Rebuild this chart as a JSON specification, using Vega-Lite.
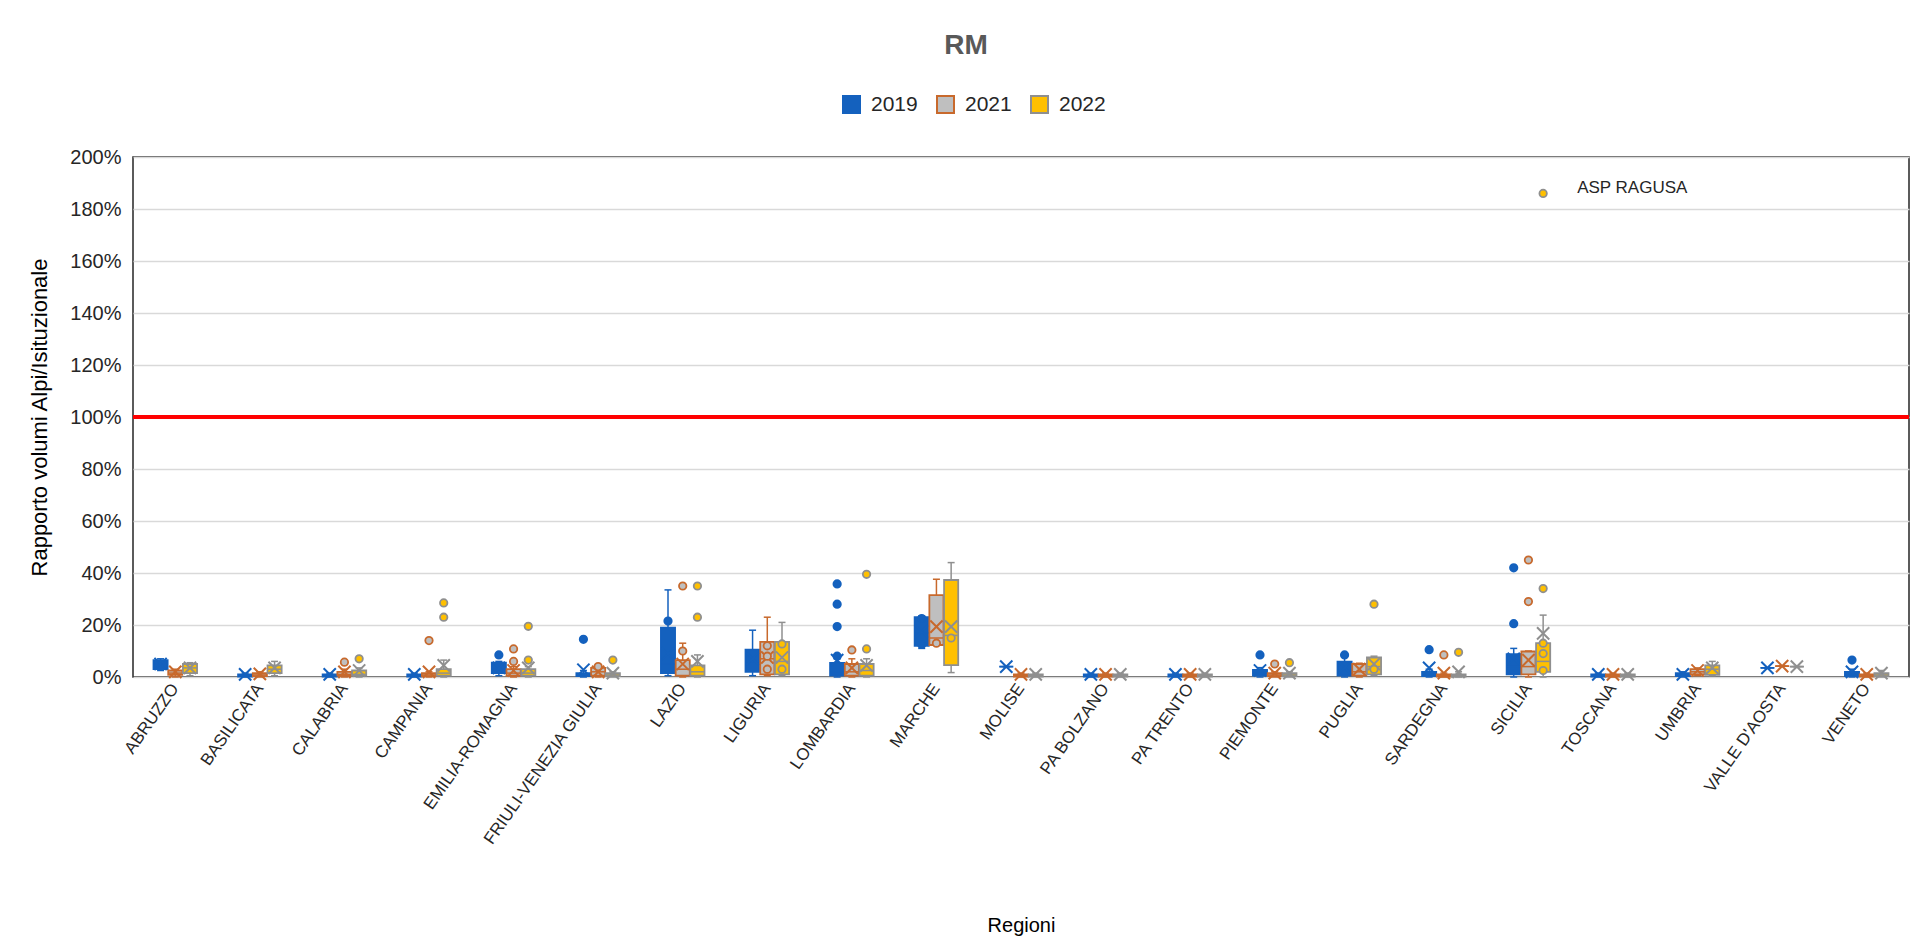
{
  "$schema": "https://vega.github.io/schema/vega-lite/v6.json",
  "width": 1776,
  "height": 520,
  "autosize": {"type": "none"},
  "padding": {"left": 133, "top": 157, "right": 14, "bottom": 271},
  "background": "white",
  "config": {
    "view": {"stroke": "#262626", "strokeWidth": 1.5},
    "font": "Liberation Sans",
    "legend": {
      "orient": "none", "legendX": 708, "legendY": -63, "direction": "horizontal",
      "symbolType": "square", "symbolSize": 289, "symbolStrokeWidth": 2,
      "labelFontSize": 21, "labelColor": "#262626", "columnPadding": 15, "labelOffset": 9
    }
  },
  "title": {"text": "RM", "fontSize": 28, "fontWeight": "bold", "color": "#595959", "anchor": "middle", "dx": -55, "offset": 34},
  "datasets": {
    "boxes": [
      {"region": "ABRUZZO", "year": "2019", "lo": 2.5, "q1": 3, "med": 5, "q3": 6.5, "hi": 7, "mean": 5},
      {"region": "ABRUZZO", "year": "2021", "lo": 0, "q1": 0.8, "med": 1.5, "q3": 2.5, "hi": 3, "mean": 2},
      {"region": "ABRUZZO", "year": "2022", "lo": 0.5, "q1": 1.5, "med": 3.5, "q3": 5, "hi": 5.5, "mean": 3.5},
      {"region": "BASILICATA", "year": "2019", "lo": 0, "q1": 0.2, "med": 0.5, "q3": 1, "hi": 1.5, "mean": 1},
      {"region": "BASILICATA", "year": "2021", "lo": 0, "q1": 0.3, "med": 0.8, "q3": 1.5, "hi": 2, "mean": 1.2},
      {"region": "BASILICATA", "year": "2022", "lo": 0.5, "q1": 1.5, "med": 3, "q3": 4.5, "hi": 6, "mean": 3.5},
      {"region": "CALABRIA", "year": "2019", "lo": 0, "q1": 0.2, "med": 0.5, "q3": 1, "hi": 1.5, "mean": 1},
      {"region": "CALABRIA", "year": "2021", "lo": 0, "q1": 0.5, "med": 1, "q3": 2, "hi": 3, "mean": 2},
      {"region": "CALABRIA", "year": "2022", "lo": 0, "q1": 0.5, "med": 1, "q3": 2.5, "hi": 3.5, "mean": 2.5},
      {"region": "CAMPANIA", "year": "2019", "lo": 0, "q1": 0.2, "med": 0.5, "q3": 1, "hi": 1.5, "mean": 1},
      {"region": "CAMPANIA", "year": "2021", "lo": 0, "q1": 0.3, "med": 0.8, "q3": 1.5, "hi": 2, "mean": 2},
      {"region": "CAMPANIA", "year": "2022", "lo": 0, "q1": 0.5, "med": 1.5, "q3": 3, "hi": 6.5, "mean": 4.5},
      {"region": "EMILIA-ROMAGNA", "year": "2019", "lo": 0.5, "q1": 1.5, "med": 3, "q3": 5.5, "hi": 6, "mean": 3.5},
      {"region": "EMILIA-ROMAGNA", "year": "2021", "lo": 0, "q1": 0.5, "med": 1.5, "q3": 3, "hi": 4, "mean": 2.5},
      {"region": "EMILIA-ROMAGNA", "year": "2022", "lo": 0, "q1": 0.5, "med": 1.5, "q3": 3, "hi": 4, "mean": 3.5},
      {"region": "FRIULI-VENEZIA GIULIA", "year": "2019", "lo": 0, "q1": 0.3, "med": 0.8, "q3": 1.5, "hi": 2.5, "mean": 2.8},
      {"region": "FRIULI-VENEZIA GIULIA", "year": "2021", "lo": 0, "q1": 0.5, "med": 2, "q3": 3.5, "hi": 4, "mean": 2},
      {"region": "FRIULI-VENEZIA GIULIA", "year": "2022", "lo": 0, "q1": 0.3, "med": 0.8, "q3": 1.5, "hi": 2, "mean": 1.5},
      {"region": "LAZIO", "year": "2019", "lo": 0.5, "q1": 1.5, "med": 5, "q3": 19, "hi": 33.5, "mean": 9},
      {"region": "LAZIO", "year": "2021", "lo": 0, "q1": 0.5, "med": 3, "q3": 6.5, "hi": 13, "mean": 5},
      {"region": "LAZIO", "year": "2022", "lo": 0, "q1": 0.5, "med": 2, "q3": 4.5, "hi": 8.5, "mean": 6},
      {"region": "LIGURIA", "year": "2019", "lo": 0.5, "q1": 2, "med": 6, "q3": 10.5, "hi": 18, "mean": 7},
      {"region": "LIGURIA", "year": "2021", "lo": 0.5, "q1": 1, "med": 7, "q3": 13.5, "hi": 23, "mean": 7.5},
      {"region": "LIGURIA", "year": "2022", "lo": 0.5, "q1": 1, "med": 6, "q3": 13.5, "hi": 21, "mean": 7.5},
      {"region": "LOMBARDIA", "year": "2019", "lo": 0, "q1": 0.5, "med": 2, "q3": 5.4, "hi": 7, "mean": 6.5},
      {"region": "LOMBARDIA", "year": "2021", "lo": 0, "q1": 0.5, "med": 2, "q3": 5, "hi": 7, "mean": 3.5},
      {"region": "LOMBARDIA", "year": "2022", "lo": 0, "q1": 0.5, "med": 2.5, "q3": 5, "hi": 7, "mean": 4.5},
      {"region": "MARCHE", "year": "2019", "lo": 11, "q1": 12, "med": 17, "q3": 23, "hi": 23.5, "mean": 17.5},
      {"region": "MARCHE", "year": "2021", "lo": 12.3, "q1": 12.3, "med": 15, "q3": 31.5, "hi": 37.6, "mean": 19.4},
      {"region": "MARCHE", "year": "2022", "lo": 1.7, "q1": 4.6, "med": 16, "q3": 37.3, "hi": 44, "mean": 19.4},
      {"region": "MOLISE", "year": "2019", "lo": 4, "q1": 4, "med": 4, "q3": 4, "hi": 4, "mean": 4},
      {"region": "MOLISE", "year": "2021", "lo": 0, "q1": 0.2, "med": 0.5, "q3": 1, "hi": 1.5, "mean": 1},
      {"region": "MOLISE", "year": "2022", "lo": 0, "q1": 0.2, "med": 0.5, "q3": 1, "hi": 1.5, "mean": 1},
      {"region": "PA BOLZANO", "year": "2019", "lo": 0, "q1": 0.2, "med": 0.5, "q3": 1, "hi": 1.5, "mean": 1},
      {"region": "PA BOLZANO", "year": "2021", "lo": 0, "q1": 0.2, "med": 0.5, "q3": 1, "hi": 1.5, "mean": 1},
      {"region": "PA BOLZANO", "year": "2022", "lo": 0, "q1": 0.2, "med": 0.5, "q3": 1, "hi": 1.5, "mean": 1},
      {"region": "PA TRENTO", "year": "2019", "lo": 0, "q1": 0.2, "med": 0.5, "q3": 1, "hi": 1.5, "mean": 1},
      {"region": "PA TRENTO", "year": "2021", "lo": 0, "q1": 0.2, "med": 0.5, "q3": 1, "hi": 1.5, "mean": 1},
      {"region": "PA TRENTO", "year": "2022", "lo": 0, "q1": 0.2, "med": 0.5, "q3": 1, "hi": 1.5, "mean": 1},
      {"region": "PIEMONTE", "year": "2019", "lo": 0, "q1": 0.5, "med": 1.5, "q3": 2.7, "hi": 3.6, "mean": 2.5},
      {"region": "PIEMONTE", "year": "2021", "lo": 0, "q1": 0.3, "med": 0.8, "q3": 1.5, "hi": 2, "mean": 1.5},
      {"region": "PIEMONTE", "year": "2022", "lo": 0, "q1": 0.3, "med": 0.8, "q3": 1.5, "hi": 2, "mean": 1.5},
      {"region": "PUGLIA", "year": "2019", "lo": 0, "q1": 0.5, "med": 2.5, "q3": 5.9, "hi": 8, "mean": 3.5},
      {"region": "PUGLIA", "year": "2021", "lo": 0, "q1": 0.5, "med": 2, "q3": 5, "hi": 5.3, "mean": 3},
      {"region": "PUGLIA", "year": "2022", "lo": 0.5, "q1": 1, "med": 4, "q3": 7.5, "hi": 8, "mean": 5},
      {"region": "SARDEGNA", "year": "2019", "lo": 0, "q1": 0.3, "med": 0.8, "q3": 2, "hi": 3, "mean": 3.5},
      {"region": "SARDEGNA", "year": "2021", "lo": 0, "q1": 0.2, "med": 0.5, "q3": 1, "hi": 1.5, "mean": 1.5},
      {"region": "SARDEGNA", "year": "2022", "lo": 0, "q1": 0.2, "med": 0.5, "q3": 1, "hi": 2, "mean": 2},
      {"region": "SICILIA", "year": "2019", "lo": 0, "q1": 1, "med": 4, "q3": 8.8, "hi": 11, "mean": 7},
      {"region": "SICILIA", "year": "2021", "lo": 0, "q1": 1, "med": 4, "q3": 9.8, "hi": 10, "mean": 6.5},
      {"region": "SICILIA", "year": "2022", "lo": 0, "q1": 2, "med": 6, "q3": 13, "hi": 23.8, "mean": 16.8},
      {"region": "TOSCANA", "year": "2019", "lo": 0, "q1": 0.2, "med": 0.5, "q3": 1, "hi": 1.5, "mean": 1},
      {"region": "TOSCANA", "year": "2021", "lo": 0, "q1": 0.2, "med": 0.5, "q3": 1, "hi": 1.5, "mean": 1},
      {"region": "TOSCANA", "year": "2022", "lo": 0, "q1": 0.2, "med": 0.5, "q3": 1, "hi": 1.5, "mean": 1},
      {"region": "UMBRIA", "year": "2019", "lo": 0, "q1": 0.3, "med": 0.8, "q3": 1.5, "hi": 2, "mean": 1},
      {"region": "UMBRIA", "year": "2021", "lo": 0.5, "q1": 1, "med": 2, "q3": 3, "hi": 3.5, "mean": 2.5},
      {"region": "UMBRIA", "year": "2022", "lo": 0.5, "q1": 0.8, "med": 3, "q3": 4.5, "hi": 6, "mean": 3.5},
      {"region": "VALLE D'AOSTA", "year": "2019", "lo": 3.5, "q1": 3.5, "med": 3.5, "q3": 3.5, "hi": 3.5, "mean": 3.5},
      {"region": "VALLE D'AOSTA", "year": "2021", "lo": 4.2, "q1": 4.2, "med": 4.2, "q3": 4.2, "hi": 4.2, "mean": 4.2},
      {"region": "VALLE D'AOSTA", "year": "2022", "lo": 4, "q1": 4, "med": 4, "q3": 4, "hi": 4, "mean": 4},
      {"region": "VENETO", "year": "2019", "lo": 0, "q1": 0.3, "med": 0.8, "q3": 2, "hi": 3, "mean": 2},
      {"region": "VENETO", "year": "2021", "lo": 0, "q1": 0.2, "med": 0.5, "q3": 1, "hi": 1.5, "mean": 1},
      {"region": "VENETO", "year": "2022", "lo": 0, "q1": 0.3, "med": 0.8, "q3": 1.5, "hi": 2.5, "mean": 1.5}
    ],
    "points": [
      {"region": "CALABRIA", "year": "2021", "value": 5.7},
      {"region": "CALABRIA", "year": "2022", "value": 7},
      {"region": "CAMPANIA", "year": "2021", "value": 14},
      {"region": "CAMPANIA", "year": "2022", "value": 23},
      {"region": "CAMPANIA", "year": "2022", "value": 28.5},
      {"region": "EMILIA-ROMAGNA", "year": "2019", "value": 8.5},
      {"region": "EMILIA-ROMAGNA", "year": "2021", "value": 6},
      {"region": "EMILIA-ROMAGNA", "year": "2021", "value": 10.8},
      {"region": "EMILIA-ROMAGNA", "year": "2022", "value": 6.5},
      {"region": "EMILIA-ROMAGNA", "year": "2022", "value": 19.5},
      {"region": "FRIULI-VENEZIA GIULIA", "year": "2019", "value": 14.5},
      {"region": "FRIULI-VENEZIA GIULIA", "year": "2021", "value": 4},
      {"region": "FRIULI-VENEZIA GIULIA", "year": "2022", "value": 6.5},
      {"region": "LAZIO", "year": "2019", "value": 21.5},
      {"region": "LAZIO", "year": "2021", "value": 10},
      {"region": "LAZIO", "year": "2021", "value": 35},
      {"region": "LAZIO", "year": "2022", "value": 23},
      {"region": "LAZIO", "year": "2022", "value": 35},
      {"region": "LIGURIA", "year": "2021", "value": 12},
      {"region": "LIGURIA", "year": "2021", "value": 8},
      {"region": "LIGURIA", "year": "2021", "value": 3},
      {"region": "LIGURIA", "year": "2022", "value": 12.7},
      {"region": "LIGURIA", "year": "2022", "value": 3},
      {"region": "LOMBARDIA", "year": "2019", "value": 8},
      {"region": "LOMBARDIA", "year": "2019", "value": 19.4},
      {"region": "LOMBARDIA", "year": "2019", "value": 28},
      {"region": "LOMBARDIA", "year": "2019", "value": 35.8},
      {"region": "LOMBARDIA", "year": "2021", "value": 10.4},
      {"region": "LOMBARDIA", "year": "2022", "value": 10.8},
      {"region": "LOMBARDIA", "year": "2022", "value": 39.5},
      {"region": "MARCHE", "year": "2019", "value": 22.5},
      {"region": "MARCHE", "year": "2019", "value": 12.5},
      {"region": "MARCHE", "year": "2021", "value": 13},
      {"region": "MARCHE", "year": "2022", "value": 15},
      {"region": "PIEMONTE", "year": "2019", "value": 8.5},
      {"region": "PIEMONTE", "year": "2021", "value": 5},
      {"region": "PIEMONTE", "year": "2022", "value": 5.5},
      {"region": "PUGLIA", "year": "2019", "value": 8.5},
      {"region": "PUGLIA", "year": "2022", "value": 3},
      {"region": "PUGLIA", "year": "2022", "value": 28},
      {"region": "SARDEGNA", "year": "2019", "value": 10.5},
      {"region": "SARDEGNA", "year": "2021", "value": 8.5},
      {"region": "SARDEGNA", "year": "2022", "value": 9.5},
      {"region": "SICILIA", "year": "2019", "value": 20.5},
      {"region": "SICILIA", "year": "2019", "value": 42},
      {"region": "SICILIA", "year": "2021", "value": 29},
      {"region": "SICILIA", "year": "2021", "value": 45},
      {"region": "SICILIA", "year": "2022", "value": 2.5},
      {"region": "SICILIA", "year": "2022", "value": 9},
      {"region": "SICILIA", "year": "2022", "value": 13},
      {"region": "SICILIA", "year": "2022", "value": 34},
      {"region": "SICILIA", "year": "2022", "value": 186},
      {"region": "VENETO", "year": "2019", "value": 6.5}
    ],
    "labels": [
      {"region": "SICILIA", "year": "2022", "value": 186, "label": "ASP RAGUSA"}
    ],
    "ref": [{"value": 100}]
  },
  "encoding": {
    "x": {
      "field": "region", "type": "nominal", "sort": null,
      "scale": {"paddingInner": 0.485, "paddingOuter": 0.2425},
      "axis": {
        "title": "Regioni", "titleFontWeight": "normal", "titleFontSize": 20, "titleColor": "#000000",
        "titleY": 248, "titleBaseline": "middle",
        "labelAngle": -55, "labelAlign": "right", "labelBaseline": "middle",
        "labelFontSize": 17, "labelColor": "#262626", "labelPadding": 8,
        "ticks": false, "domain": false, "labelOverlap": false, "labelLimit": 300
      }
    },
    "xOffset": {"field": "year", "type": "nominal", "scale": {"domain": ["2019", "2021", "2022"], "paddingInner": 0.04}}
  },
  "layer": [
    {
      "data": {"name": "ref"},
      "mark": {"type": "rule", "color": "#FF0000", "strokeWidth": 4},
      "encoding": {
        "x": null, "xOffset": null,
        "y": {"field": "value", "type": "quantitative"}
      }
    },
    {
      "data": {"name": "boxes"},
      "mark": {"type": "rule", "strokeWidth": 1.5},
      "encoding": {
        "y": {
          "field": "lo", "type": "quantitative",
          "scale": {"domain": [0, 200], "nice": false},
          "axis": {
            "values": [0, 20, 40, 60, 80, 100, 120, 140, 160, 180, 200],
            "labelExpr": "datum.value + '%'",
            "title": "Rapporto volumi Alpi/Isituzionale", "titleFontWeight": "normal", "titleFontSize": 22, "titleColor": "#000000",
            "titleX": -94, "titleBaseline": "middle",
            "labelFontSize": 20, "labelColor": "#262626", "labelPadding": 12,
            "grid": true, "gridColor": "#D9D9D9", "gridWidth": 1.5, "ticks": false, "domain": false
          }
        },
        "y2": {"field": "hi"},
        "stroke": {
          "field": "year", "type": "nominal", "title": null,
          "scale": {"domain": ["2019", "2021", "2022"], "range": ["#1461BE", "#C8692C", "#8F8F8F"]}
        }
      }
    },
    {
      "data": {"name": "boxes"},
      "mark": {"type": "point", "shape": "M -1 0 L 1 0", "filled": false, "size": 49, "strokeWidth": 1.5, "opacity": 1},
      "encoding": {
        "y": {"field": "hi", "type": "quantitative"},
        "stroke": {"field": "year", "type": "nominal", "title": null}
      }
    },
    {
      "data": {"name": "boxes"},
      "mark": {"type": "point", "shape": "M -1 0 L 1 0", "filled": false, "size": 49, "strokeWidth": 1.5, "opacity": 1},
      "encoding": {
        "y": {"field": "lo", "type": "quantitative"},
        "stroke": {"field": "year", "type": "nominal", "title": null}
      }
    },
    {
      "data": {"name": "boxes"},
      "mark": {"type": "bar", "strokeWidth": 1.8},
      "encoding": {
        "y": {"field": "q1", "type": "quantitative"},
        "y2": {"field": "q3"},
        "fill": {
          "field": "year", "type": "nominal", "title": null,
          "scale": {"domain": ["2019", "2021", "2022"], "range": ["#1461BE", "#BFBFBF", "#FFC000"]},
          "legend": {
            "orient": "none", "legendX": 708, "legendY": -63, "direction": "horizontal",
            "symbolType": "square", "symbolSize": 289, "symbolStrokeWidth": 2,
            "labelFontSize": 21, "labelColor": "#262626", "columnPadding": 15, "labelOffset": 9
          }
        },
        "stroke": {
          "field": "year", "type": "nominal", "title": null,
          "legend": {
            "orient": "none", "legendX": 708, "legendY": -63, "direction": "horizontal",
            "symbolType": "square", "symbolSize": 289, "symbolStrokeWidth": 2,
            "labelFontSize": 21, "labelColor": "#262626", "columnPadding": 15, "labelOffset": 9
          }
        }
      }
    },
    {
      "data": {"name": "boxes"},
      "mark": {"type": "point", "shape": "M -1 0 L 1 0", "filled": false, "size": 169, "strokeWidth": 1.5, "opacity": 1},
      "encoding": {
        "y": {"field": "med", "type": "quantitative"},
        "stroke": {"field": "year", "type": "nominal", "title": null}
      }
    },
    {
      "data": {"name": "boxes"},
      "mark": {"type": "point", "shape": "M -1 -1 L 1 1 M -1 1 L 1 -1", "filled": false, "size": 150, "strokeWidth": 2, "opacity": 1},
      "encoding": {
        "y": {"field": "mean", "type": "quantitative"},
        "stroke": {"field": "year", "type": "nominal", "title": null}
      }
    },
    {
      "data": {"name": "points"},
      "mark": {"type": "point", "shape": "circle", "filled": true, "size": 55, "strokeWidth": 1.8, "opacity": 1},
      "encoding": {
        "y": {"field": "value", "type": "quantitative"},
        "fill": {"field": "year", "type": "nominal", "title": null},
        "stroke": {"field": "year", "type": "nominal", "title": null}
      }
    },
    {
      "data": {"name": "labels"},
      "mark": {"type": "text", "align": "left", "baseline": "middle", "dx": 34, "dy": -5, "fontSize": 17, "color": "#262626"},
      "encoding": {
        "y": {"field": "value", "type": "quantitative"},
        "text": {"field": "label"}
      }
    }
  ]
}
